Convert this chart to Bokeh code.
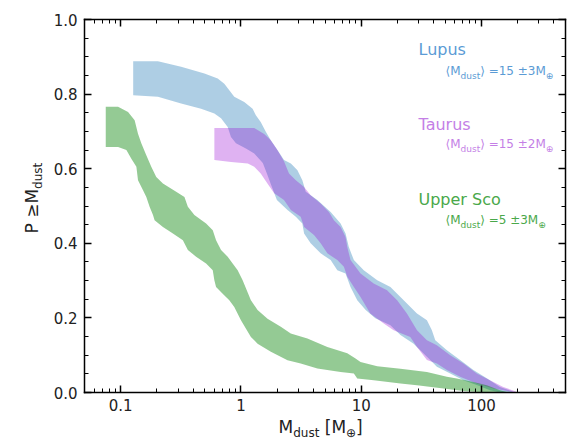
import math
from bokeh.plotting import figure
from bokeh.models import (Label, FixedTicker, LogAxis, LinearAxis, Range1d,
                          CustomJSTickFormatter, PrintfTickFormatter)
from bokeh.embed import file_html
from bokeh.resources import INLINE

FONT = "DejaVu Sans"

# ---------------- data ----------------
lupus_hi_x = [0.127, 0.204, 0.318, 0.497, 0.641, 0.727, 0.800, 0.880, 1.065, 1.25, 1.33, 1.46,
              1.61, 1.77, 2.01, 2.28, 2.60, 2.95, 3.24, 3.46, 4.32, 5.57, 6.74, 7.41, 7.89, 8.69,
              10.5, 13.6, 17.5, 21.2, 29.1, 35.2, 38.7, 41.3, 51.6, 66.5, 85.7, 110.7, 142.6, 184]
lupus_hi_y = [0.888, 0.888, 0.873, 0.855, 0.842, 0.828, 0.810, 0.793, 0.779, 0.761, 0.743, 0.725,
              0.699, 0.676, 0.650, 0.623, 0.614, 0.596, 0.569, 0.538, 0.516, 0.484, 0.453, 0.426,
              0.390, 0.355, 0.328, 0.301, 0.283, 0.256, 0.212, 0.194, 0.167, 0.140, 0.113, 0.087,
              0.060, 0.038, 0.015, 0.002]
lupus_lo_x = [0.127, 0.204, 0.318, 0.466, 0.601, 0.683, 0.776, 0.826, 0.909, 1.10, 1.29, 1.52,
              1.64, 1.77, 1.99, 2.44, 2.86, 3.24, 3.35, 3.80, 4.60, 5.57, 6.33, 7.41, 8.15, 9.27,
              10.9, 13.1, 17.5, 21.2, 27.3, 37.5, 42.6, 55.0, 70.8, 91.4, 117.8, 142.6]
lupus_lo_y = [0.797, 0.793, 0.775, 0.761, 0.748, 0.735, 0.712, 0.685, 0.668, 0.654, 0.641, 0.615,
              0.588, 0.559, 0.516, 0.489, 0.471, 0.453, 0.426, 0.400, 0.373, 0.355, 0.328, 0.319,
              0.283, 0.247, 0.221, 0.199, 0.180, 0.154, 0.131, 0.087, 0.069, 0.051, 0.033, 0.020,
              0.006, 0.0]

taurus_hi_x = [0.601, 1.29, 1.56, 1.77, 2.01, 2.28, 2.51, 2.86, 3.35, 3.80, 4.60, 5.39, 5.93,
               6.74, 7.41, 7.66, 8.15, 9.87, 12.7, 16.4, 19.9, 24.0, 29.1, 35.2, 42.6, 55.0,
               70.8, 91.4, 117.8, 151.8, 196]
taurus_hi_y = [0.709, 0.709, 0.693, 0.676, 0.650, 0.620, 0.587, 0.569, 0.551, 0.529, 0.507,
               0.484, 0.462, 0.444, 0.417, 0.390, 0.355, 0.319, 0.292, 0.274, 0.247, 0.212,
               0.167, 0.140, 0.127, 0.100, 0.078, 0.051, 0.033, 0.015, 0.002]
taurus_lo_x = [0.601, 0.826, 1.14, 1.29, 1.46, 1.66, 1.89, 2.28, 2.60, 3.14, 3.35, 4.05, 4.60,
               5.23, 6.33, 7.18, 7.66, 8.69, 9.87, 11.9, 15.4, 18.6, 25.6, 29.1, 35.2, 42.6,
               51.6, 66.5, 91.4, 125.5, 184]
taurus_lo_y = [0.623, 0.618, 0.614, 0.605, 0.587, 0.560, 0.534, 0.516, 0.489, 0.471, 0.444,
               0.422, 0.400, 0.373, 0.355, 0.337, 0.310, 0.283, 0.256, 0.212, 0.185, 0.167,
               0.149, 0.122, 0.087, 0.078, 0.060, 0.042, 0.024, 0.011, 0.001]

usco_hi_x = [0.0751, 0.0951, 0.1151, 0.1306, 0.1393, 0.1484, 0.1633, 0.1796, 0.1976, 0.2245,
             0.2893, 0.339, 0.3618, 0.410, 0.513, 0.583, 0.621, 0.683, 0.776, 0.853, 0.939,
             1.033, 1.21, 1.375, 1.664, 2.145, 2.596, 3.57, 5.23, 7.66, 8.97, 9.87, 13.6, 21.2,
             35.2, 51.6, 62.4, 85.7, 110.7, 142.6, 162]
usco_hi_y = [0.766, 0.766, 0.752, 0.730, 0.694, 0.668, 0.636, 0.605, 0.578, 0.560, 0.538,
             0.524, 0.498, 0.476, 0.453, 0.435, 0.408, 0.382, 0.364, 0.346, 0.328, 0.301,
             0.247, 0.221, 0.198, 0.176, 0.158, 0.145, 0.122, 0.105, 0.091, 0.082, 0.0705,
             0.064, 0.055, 0.042, 0.0375, 0.028, 0.0196, 0.006, 0.0016]
usco_lo_x = [0.0751, 0.0951, 0.1115, 0.1226, 0.135, 0.1393, 0.1533, 0.1633, 0.1739, 0.1856,
             0.1913, 0.2245, 0.2717, 0.3289, 0.3618, 0.4238, 0.5129, 0.5826, 0.601, 0.6208,
             0.705, 0.80, 0.88, 1.0, 1.21, 1.375, 1.773, 2.438, 3.14, 4.32, 6.74, 8.69, 9.27,
             12.7, 21.2, 29.1, 48.3, 70.8, 103.7]
usco_lo_y = [0.658, 0.658, 0.650, 0.627, 0.605, 0.569, 0.542, 0.524, 0.498, 0.476, 0.462,
             0.444, 0.426, 0.408, 0.382, 0.364, 0.346, 0.328, 0.301, 0.283, 0.265, 0.247,
             0.229, 0.194, 0.149, 0.131, 0.109, 0.0866, 0.0777, 0.0643, 0.055, 0.051, 0.0375,
             0.033, 0.024, 0.0196, 0.0107, 0.0043, 0.0]

series_names = ["Lupus", "Taurus", "Upper Sco"]
series_means = ["15 ±3M", "15 ±2M", "5 ±3M"]

x_major = [0.1, 1, 10, 100]
x_major_labels = ["0.1", "1", "10", "100"]
y_major = [0.0, 0.2, 0.4, 0.6, 0.8, 1.0]
x_minor = [m * 10.0 ** e for e in range(-2, 3) for m in range(2, 10) if 0.05 <= m * 10.0 ** e <= 500]
y_minor = [i * 0.05 for i in range(21)]

XMIN, XMAX, YMIN, YMAX = 0.05, 500.0, 0.0, 1.0

# ---------------- layout (canvas pixels) ----------------
CW, CH = 570, 440
BL, BR, BT, BB = 84, 565, 19, 392   # plot box edges

lx0, lx1 = math.log10(XMIN), math.log10(XMAX)
dpp = (lx1 - lx0) / (BR - BL)
ypp = (YMAX - YMIN) / (BB - BT)
x_range = Range1d(10 ** (lx0 - BL * dpp), 10 ** (lx1 + (CW - BR) * dpp))
y_range = Range1d(YMIN - (CH - BB) * ypp, YMAX + BT * ypp)

p = figure(width=CW, height=CH, x_axis_type="log", x_range=x_range, y_range=y_range,
           x_axis_location=None, y_axis_location=None, title=None,
           output_backend="svg", toolbar_location=None, min_border=0)
p.grid.visible = False
p.outline_line_color = None
p.background_fill_color = "white"
p.border_fill_color = "white"

AX = "#222222"


def style_axis(ax):
    ax.axis_line_color = "black"
    ax.axis_line_width = 1.5
    ax.axis_line_cap = "square"
    ax.major_tick_in = 7
    ax.major_tick_out = 0
    ax.minor_tick_in = 4
    ax.minor_tick_out = 0
    ax.major_tick_line_color = "black"
    ax.minor_tick_line_color = "black"
    ax.major_tick_line_width = 1.5
    ax.minor_tick_line_width = 1
    ax.major_label_text_font = FONT
    ax.major_label_text_color = AX
    ax.major_label_text_font_size = "15px"
    return ax


xfmt = CustomJSTickFormatter(args=dict(tvals=x_major, tlabels=x_major_labels),
                             code="const i = tvals.indexOf(tick); return i >= 0 ? tlabels[i] : '';")
blank = CustomJSTickFormatter(code="return '';")

bottom = style_axis(LogAxis(fixed_location=YMIN, bounds=(XMIN, XMAX),
                            ticker=FixedTicker(ticks=x_major, minor_ticks=x_minor), formatter=xfmt))
bottom.major_label_standoff = 6
p.add_layout(bottom, "below")

left = style_axis(LinearAxis(fixed_location=XMIN, bounds=(YMIN, YMAX),
                             ticker=FixedTicker(ticks=y_major, minor_ticks=y_minor),
                             formatter=PrintfTickFormatter(format="%.1f")))
left.major_label_standoff = 7
p.add_layout(left, "left")

top = style_axis(LogAxis(fixed_location=YMAX, bounds=(XMIN, XMAX),
                         ticker=FixedTicker(ticks=x_major, minor_ticks=x_minor), formatter=blank))
p.add_layout(top, "above")

right = style_axis(LinearAxis(fixed_location=XMAX, bounds=(YMIN, YMAX),
                              ticker=FixedTicker(ticks=y_major, minor_ticks=y_minor), formatter=blank))
p.add_layout(right, "right")

# ---------------- bands ----------------
bands = [
    (lupus_hi_x, lupus_hi_y, lupus_lo_x, lupus_lo_y, "#1f77b4", 0.36),
    (taurus_hi_x, taurus_hi_y, taurus_lo_x, taurus_lo_y, "#9400d3", 0.30),
    (usco_hi_x, usco_hi_y, usco_lo_x, usco_lo_y, "#008000", 0.42),
]
for hx, hy, lx, ly, col, a in bands:
    p.patch(x=hx + lx[::-1], y=hy + ly[::-1], fill_color=col, fill_alpha=a, line_color=None)

# ---------------- text ----------------
NB = "\u00a0"
W = {" ": 0.318, NB: 0.318, ".": 0.318, "M": 0.863, "d": 0.635, "u": 0.634, "s": 0.521,
     "t": 0.392, "[": 0.390, "]": 0.390, "=": 0.838, "±": 0.838, "⟨": 0.390, "⟩": 0.390,
     "⊕": 0.838, "P": 0.603, "≥": 0.838}
BASE_FIX = 0.42   # em; measured offset of the rendered baseline


def tw(s, size):
    return sum(W.get(c, 0.636) for c in s) * size


def add_rich(parts, x0, y0, color, rotated=False):
    """x0, y0: canvas pixels from the left / top edge (baseline start)."""
    pos = 0.0
    for text, size, shift in parts:
        kw = dict(x_units="screen", y_units="screen", text=text, text_font=FONT,
                  text_font_size=f"{size}px", text_color=color,
                  text_baseline="alphabetic", text_align="left")
        d = shift - BASE_FIX * size
        if rotated:
            lab = Label(x=x0 + d, y=CH - y0 + pos, angle=math.pi / 2, **kw)
        else:
            lab = Label(x=x0 + pos, y=CH - (y0 + d), **kw)
        p.add_layout(lab)
        pos += tw(text, size)


# x axis label: M_dust [M_⊕]
add_rich([("M", 17, 0), ("dust", 12, 4), (NB + "[M", 17, 0), ("⊕", 12, 4), ("]", 17, 0)],
         278, 434, AX)
# y axis label: P ≥M_dust
add_rich([("P" + NB + "≥M", 17, 0), ("dust", 12, 4)], 39, 233, AX, rotated=True)

text_cols = ["#5b9bd5", "#c47fe6", "#4aa84a"]
name_y = [56, 131, 206]
mean_y = [76, 149, 225]
for name, mean, col, ny, my in zip(series_names, series_means, text_cols, name_y, mean_y):
    add_rich([(name, 16, 0)], 418, ny, col)
    add_rich([("⟨M", 12, 0), ("dust", 9, 3), ("⟩" + NB + "=" + mean.replace(" ", NB), 12, 0),
              ("⊕", 9, 3)], 445, my, col)

open("out.html", "w").write(file_html(p, INLINE))
